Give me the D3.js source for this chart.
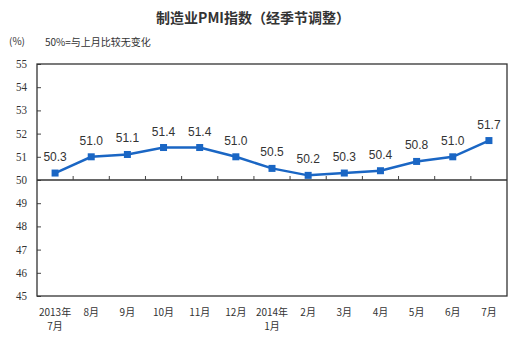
<!DOCTYPE html>
<html>
<head>
<meta charset="utf-8">
<script src="https://cdn.jsdelivr.net/npm/d3@7"></script>
<style>
  html, body { margin: 0; padding: 0; background: #fff; }
  svg { display: block; }
</style>
</head>
<body>
<script>
// Manufacturing PMI, seasonally adjusted, Jul 2013 – Jul 2014
const months = ["2013年", "8月", "9月", "10月", "11月", "12月", "2014年", "2月", "3月", "4月", "5月", "6月", "7月"];
const monthSub = ["7月", "", "", "", "", "", "1月", "", "", "", "", "", ""];
const pmi = [50.3, 51.0, 51.1, 51.4, 51.4, 51.0, 50.5, 50.2, 50.3, 50.4, 50.8, 51.0, 51.7];
const yTicks = [45, 46, 47, 48, 49, 50, 51, 52, 53, 54, 55];

const W = 529, H = 337;
const margin = { left: 37, right: 22, top: 64, bottom: 41 };

const svg = d3.select("body").append("svg").attr("width", W).attr("height", H);

const x = d3.scaleBand().domain(d3.range(months.length)).range([margin.left, W - margin.right]);
const y = d3.scaleLinear().domain([45, 55]).range([H - margin.bottom, margin.top]);

// Title and notes
svg.append("text")
  .attr("x", 253).attr("y", 23)
  .attr("text-anchor", "middle")
  .attr("font-family", "Noto Sans CJK SC")
  .attr("font-size", 14).attr("font-weight", "bold").attr("fill", "#333")
  .text("制造业PMI指数（经季节调整）");
svg.append("text")
  .attr("x", 9).attr("y", 45)
  .attr("font-family", "Noto Sans CJK SC").attr("font-size", 10).attr("fill", "#333")
  .text("(%)");
svg.append("text")
  .attr("x", 45).attr("y", 46)
  .attr("font-family", "Noto Sans CJK SC").attr("font-size", 10).attr("fill", "#333")
  .text("50%=与上月比较无变化");

// Y axis
const yAxis = svg.append("g")
  .attr("transform", `translate(${margin.left},0)`)
  .call(d3.axisRight(y).tickValues(yTicks).tickSize(4).tickFormat(""));
yAxis.select(".domain").remove();
yAxis.selectAll("line").attr("stroke", "#444");
svg.append("g").selectAll("text").data(yTicks).join("text")
  .attr("x", 27).attr("y", d => y(d) + 4)
  .attr("text-anchor", "end")
  .attr("font-family", "Liberation Serif").attr("font-size", 12).attr("fill", "#333")
  .attr("textLength", 11).attr("lengthAdjust", "spacingAndGlyphs")
  .text(d => d);

// Plot frame
svg.append("rect")
  .attr("x", margin.left).attr("y", margin.top)
  .attr("width", W - margin.left - margin.right)
  .attr("height", H - margin.top - margin.bottom)
  .attr("fill", "none").attr("stroke", "#333").attr("stroke-width", 1.3);

// Category axis along the 50 line, ticks between months pointing up
const boundaries = d3.range(1, months.length).map(i => x(i));
svg.append("line")
  .attr("x1", margin.left).attr("x2", W - margin.right)
  .attr("y1", y(50)).attr("y2", y(50))
  .attr("stroke", "#333").attr("stroke-width", 1.3);
svg.append("g").selectAll("line").data(boundaries).join("line")
  .attr("x1", d => d).attr("x2", d => d)
  .attr("y1", y(50)).attr("y2", y(50) - 4)
  .attr("stroke", "#444");

// Month labels (year-start months get a second line)
const cx = i => x(i) + x.bandwidth() / 2;
svg.append("g").selectAll("text").data(months).join("text")
  .attr("x", (d, i) => cx(i)).attr("y", 316)
  .attr("text-anchor", "middle")
  .attr("font-family", "Noto Sans CJK SC").attr("font-size", 10).attr("fill", "#333")
  .text(d => d);
svg.append("g").selectAll("text").data(monthSub).join("text")
  .attr("x", (d, i) => cx(i)).attr("y", 330)
  .attr("text-anchor", "middle")
  .attr("font-family", "Noto Sans CJK SC").attr("font-size", 10).attr("fill", "#333")
  .text(d => d);

// PMI line
svg.append("path")
  .datum(pmi)
  .attr("fill", "none").attr("stroke", "#1a66c4").attr("stroke-width", 2.5)
  .attr("d", d3.line().x((d, i) => cx(i)).y(d => y(d)));

svg.append("g").selectAll("rect").data(pmi).join("rect")
  .attr("x", (d, i) => cx(i) - 3.5).attr("y", d => y(d) - 3.5)
  .attr("width", 7).attr("height", 7)
  .attr("fill", "#1a66c4");

// Value labels
svg.append("g").selectAll("text").data(pmi).join("text")
  .attr("x", (d, i) => cx(i)).attr("y", d => y(d) - 12)
  .attr("text-anchor", "middle")
  .attr("font-family", "Liberation Sans").attr("font-size", 12).attr("fill", "#333")
  .text(d => d.toFixed(1));
</script>
</body>
</html>
